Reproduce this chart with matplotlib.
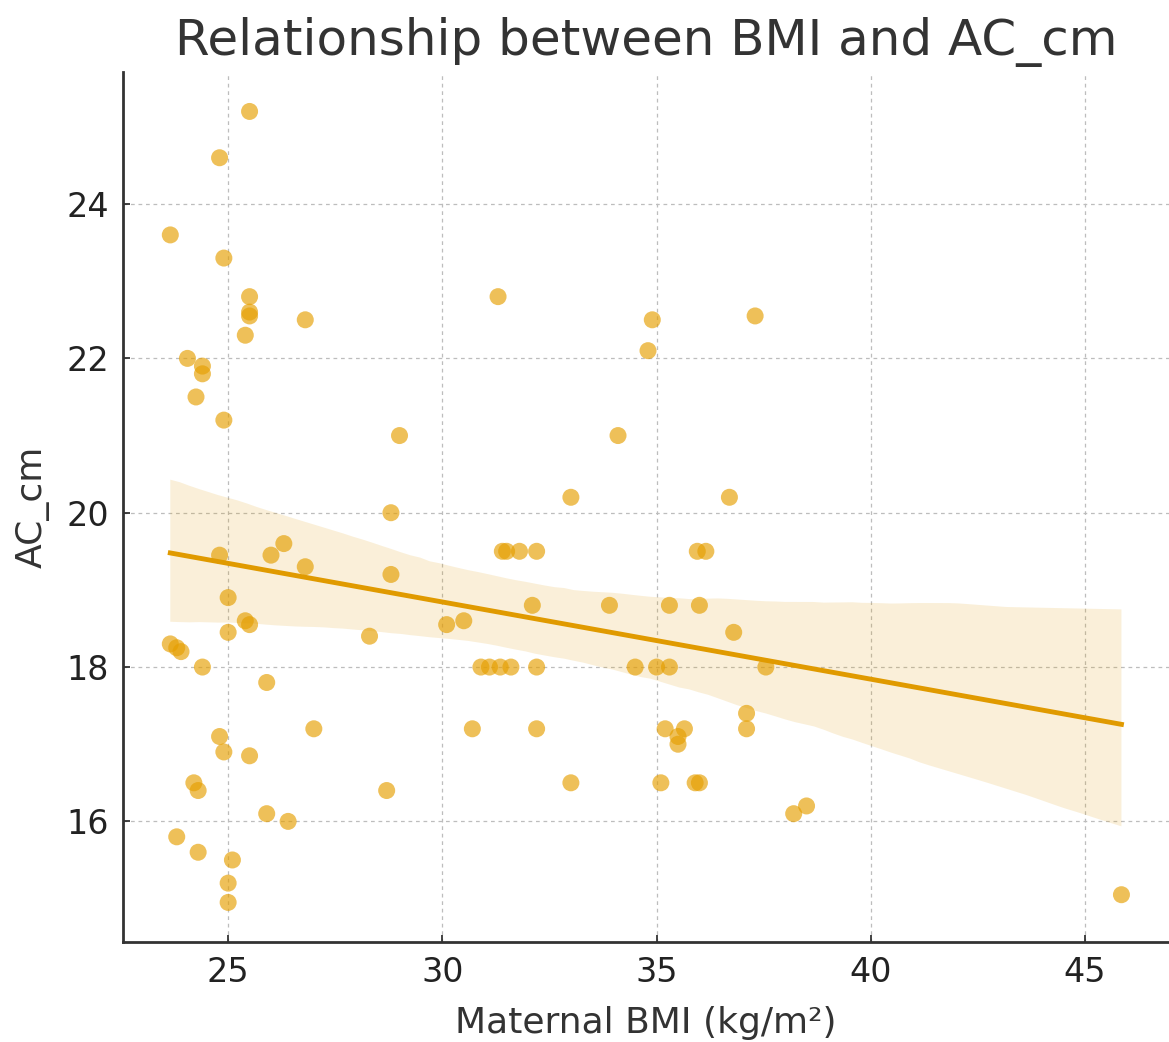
import matplotlib
matplotlib.use("Agg")
import matplotlib.pyplot as plt
import numpy as np
import pandas as pd
import seaborn as sns

# Maternal BMI vs abdominal circumference
bmi = [25.5, 24.8, 23.65, 24.9, 25.5, 25.5, 25.5, 26.8, 25.4, 24.05,
       24.4, 24.4, 24.25, 24.9, 26.3, 24.8, 26.0, 26.8, 25.0, 25.4,
       25.5, 25.0, 23.65, 23.8, 23.9, 24.4, 25.9, 27.0, 24.8, 24.9,
       25.5, 24.2, 24.3, 25.9, 26.4, 23.8, 24.3, 25.1, 25.0, 25.0,
       28.3,
       31.3, 34.9, 34.8, 37.3, 29.0, 34.1, 33.0, 36.7, 28.8, 31.4,
       31.5, 31.8, 32.2, 35.95, 36.15, 28.8, 30.1, 30.5, 32.1, 33.9,
       35.3, 36.0, 36.8, 30.9, 31.1, 31.35, 31.6, 32.2, 34.5, 35.0,
       35.3, 37.55, 30.7, 32.2, 35.2, 35.65, 37.1, 37.1, 35.5, 35.5,
       28.7, 33.0, 35.1, 35.9, 36.0, 38.2, 38.5, 45.85]
ac_cm = [25.2, 24.6, 23.6, 23.3, 22.8, 22.6, 22.55, 22.5, 22.3, 22.0,
         21.9, 21.8, 21.5, 21.2, 19.6, 19.45, 19.45, 19.3, 18.9, 18.6,
         18.55, 18.45, 18.3, 18.25, 18.2, 18.0, 17.8, 17.2, 17.1, 16.9,
         16.85, 16.5, 16.4, 16.1, 16.0, 15.8, 15.6, 15.5, 15.2, 14.95,
         18.4,
         22.8, 22.5, 22.1, 22.55, 21.0, 21.0, 20.2, 20.2, 20.0, 19.5,
         19.5, 19.5, 19.5, 19.5, 19.5, 19.2, 18.55, 18.6, 18.8, 18.8,
         18.8, 18.8, 18.45, 18.0, 18.0, 18.0, 18.0, 18.0, 18.0, 18.0,
         18.0, 18.0, 17.2, 17.2, 17.2, 17.2, 17.4, 17.2, 17.1, 17.0,
         16.4, 16.5, 16.5, 16.5, 16.5, 16.1, 16.2, 15.05]

df = pd.DataFrame({"BMI": bmi, "AC_cm": ac_cm})

colour = "#E69F00"

fig = plt.figure(figsize=(11.69, 10.42), dpi=100)
ax = fig.add_axes([0.105, 0.096, 0.895, 0.835])

sns.regplot(data=df, x="BMI", y="AC_cm", ax=ax, color=colour, ci=95, seed=0,
            scatter_kws={"s": 150, "alpha": 0.65, "edgecolor": "none"},
            line_kws={"linewidth": 3.5, "color": "#E09A00"})

# look of the axes
ax.grid(True, linestyle=(0, (3, 3)), color="#bdbdbd", linewidth=0.9)
ax.set_axisbelow(True)
for side in ["top", "right"]:
    ax.spines[side].set_visible(False)
for side in ["left", "bottom"]:
    ax.spines[side].set_color("#333333")
    ax.spines[side].set_linewidth(2)
ax.tick_params(axis="both", direction="in", length=5, width=1.2,
               labelsize=24, colors="#222222", pad=10)

ax.set_xticks([25, 30, 35, 40, 45])
ax.set_yticks([16, 18, 20, 22, 24])

ax.set_title("Relationship between BMI and AC_cm", fontsize=36, color="#333333", pad=12)
ax.set_xlabel("Maternal BMI (kg/m²)", fontsize=26, color="#333333", labelpad=12)
ax.set_ylabel("AC_cm", fontsize=26, color="#333333", labelpad=12)

fig.savefig("out.png", dpi=100)
